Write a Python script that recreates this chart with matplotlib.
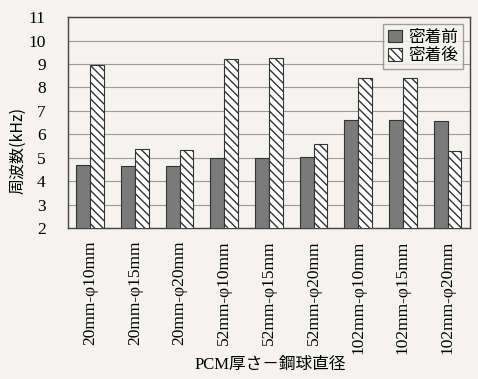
import matplotlib.pyplot as plt
import numpy as np

plt.rcParams['font.family'] = ['Liberation Serif', 'Noto Sans CJK JP', 'DejaVu Sans']

categories = ['20mm-φ10mm', '20mm-φ15mm', '20mm-φ20mm',
              '52mm-φ10mm', '52mm-φ15mm', '52mm-φ20mm',
              '102mm-φ10mm', '102mm-φ15mm', '102mm-φ20mm']
before = [4.68, 4.63, 4.65, 5.0, 5.0, 5.03, 6.63, 6.63, 6.57]
after = [8.95, 5.39, 5.35, 9.23, 9.25, 5.6, 8.42, 8.42, 5.27]

bg = '#f4f3ef'
fig = plt.figure(figsize=(4.78, 3.79), dpi=100, facecolor=bg)
ax = fig.add_axes([0.142, 0.398, 0.841, 0.557], facecolor=bg)

x = np.arange(len(categories))
w = 0.31
ax.bar(x - w / 2, before, w, color='#7a7a7a', edgecolor='#333333',
       linewidth=0.8, label='密着前', zorder=3)
ax.bar(x + w / 2, after, w, color='white', edgecolor='#333333', hatch='\\\\\\\\',
       linewidth=0.8, label='密着後', zorder=3)

ax.set_ylim(2, 11)
ax.set_xlim(-0.5, len(categories) - 0.5)
ax.set_yticks(range(2, 12))
ax.tick_params(axis='y', length=0, labelsize=12.5, pad=16)
ax.set_xticks(x)
ax.set_xticklabels(categories, rotation=90, fontsize=12.5)
ax.tick_params(axis='x', length=0, pad=9)
ax.grid(axis='y', color='#9a9a9a', linewidth=0.8, zorder=0)
for s in ax.spines.values():
    s.set_color('#444444')
    s.set_linewidth(1.0)

fig.text(18 / 478, 1 - 150 / 379, '周波数(kHz)', fontsize=11.5, rotation=90,
         family=['Noto Sans CJK JP'], ha='center', va='center')
fig.text(0.565, 1 - 365 / 379, 'PCM厚さ－鋼球直径', fontsize=12,
         ha='center', va='center')

leg = ax.legend(loc='upper right', frameon=True, fancybox=False,
                handlelength=0.8, handleheight=0.8, handletextpad=0.4,
                borderpad=0.3, labelspacing=0.1, borderaxespad=0.4,
                prop={'family': ['Noto Sans CJK JP'], 'size': 12})
leg.get_frame().set_edgecolor('#888888')
leg.get_frame().set_facecolor(bg)

fig.savefig('out.png', dpi=100, facecolor=bg)
